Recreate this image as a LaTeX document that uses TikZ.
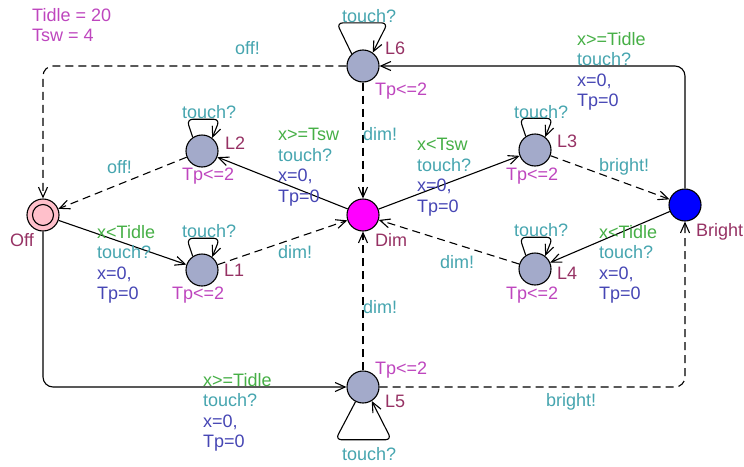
\documentclass[tikz,border=0pt]{standalone}
\usepackage{fontspec}
\setmainfont{Liberation Sans}
\usepackage{tikz}
\usetikzlibrary{arrows.meta, positioning, shapes.geometric}
\usepackage{xcolor}
\definecolor{locfill}{RGB}{163,170,202}
\definecolor{offfill}{RGB}{255,192,203}
\definecolor{dimfill}{RGB}{255,0,255}
\definecolor{brightfill}{RGB}{0,0,255}
\definecolor{namecol}{RGB}{150,50,100}
\definecolor{invcol}{RGB}{190,70,190}
\definecolor{guardcol}{RGB}{70,175,70}
\definecolor{synccol}{RGB}{70,165,175}
\definecolor{updcol}{RGB}{70,70,180}
\tikzset{
  loc/.style={circle, draw=black, line width=1.1pt, fill=locfill, minimum size=32pt, inner sep=0pt},
  initloc/.style={loc, fill=offfill,
    path picture={\draw[line width=1.1pt] (path picture bounding box.center) circle (10.5pt);}},
  dimloc/.style={loc, fill=dimfill},
  brightloc/.style={loc, fill=brightfill},
  namelabel/.style={anchor=north west, inner sep=0pt, text=namecol},
  invlabel/.style={anchor=north west, inner sep=0pt, text=invcol},
  synclabel/.style={anchor=north west, inner sep=0pt, text=synccol},
  translabel/.style={anchor=north west, inner sep=0pt, align=left, text=updcol},
  arrow/.style={-{Straight Barb[length=10pt,width=9pt]}, line width=1.1pt, color=black},
  dashedarrow/.style={arrow, dash pattern=on 8pt off 5pt},
  looparrow/.style={arrow, rounded corners=6pt}
}

\begin{document}
\begin{tikzpicture}[x=1pt, y=-1pt, on grid, font=\fontsize{18}{20.5}\selectfont]
  \useasboundingbox (0,0) rectangle (744,466);

  % locations
  \node[dimloc] (Dim) at (363,215) {};
  \node[loc, above=149pt of Dim] (L6) {};
  \node[loc, below=172pt of Dim] (L5) {};
  \node[loc, above left=64pt and 161pt of Dim] (L2) {};
  \node[loc, below left=55pt and 161pt of Dim] (L1) {};
  \node[loc, above right=65pt and 172pt of Dim] (L3) {};
  \node[loc, below right=54pt and 172pt of Dim] (L4) {};
  \node[initloc, left=320pt of Dim] (Off) {};
  \node[brightloc, above right=10pt and 322pt of Dim] (Bright) {};

  % declarations
  \node[invlabel, align=left] (decls) at (32,8) {Tidle = 20\\Tsw = 4};

  % location names and invariants
  \node[namelabel] (nameOff) at (10,233) {Off};
  \node[namelabel] (nameL1) at (224,264) {L1};
  \node[namelabel] (nameL2) at (225,137) {L2};
  \node[namelabel] (nameL3) at (557,135) {L3};
  \node[namelabel] (nameL4) at (557,267) {L4};
  \node[namelabel] (nameL5) at (385,395) {L5};
  \node[namelabel] (nameL6) at (385,42) {L6};
  \node[namelabel] (nameDim) at (375,233) {Dim};
  \node[namelabel] (nameBright) at (696,223) {Bright};
  \node[invlabel] (invL1) at (172,287) {Tp<=2};
  \node[invlabel] (invL2) at (182,168) {Tp<=2};
  \node[invlabel] (invL3) at (506,168) {Tp<=2};
  \node[invlabel] (invL4) at (506,287) {Tp<=2};
  \node[invlabel] (invL5) at (375,362) {Tp<=2};
  \node[invlabel] (invL6) at (375,83) {Tp<=2};

  % self loops
  \draw[looparrow] (L6.133) -- ++(-15,-31) -- ++(51,0) -- (L6.54);
  \draw[looparrow] (L2.124) -- ++(-6,-18) -- ++(33,0) -- (L2.52);
  \draw[looparrow] (L1.124) -- ++(-6,-18) -- ++(33,0) -- (L1.52);
  \draw[looparrow] (L3.124) -- ++(-6,-18) -- ++(33,0) -- (L3.52);
  \draw[looparrow] (L4.124) -- ++(-6,-18) -- ++(33,0) -- (L4.52);
  \draw[looparrow] (L5.243) -- ++(-20,38) -- ++(56,0) -- (L5.302);
  \node[synclabel] (loopL6) at (342,9) {touch?};
  \node[synclabel] (loopL2) at (182,105) {touch?};
  \node[synclabel] (loopL1) at (182,224) {touch?};
  \node[synclabel] (loopL3) at (514,105) {touch?};
  \node[synclabel] (loopL4) at (514,223) {touch?};
  \node[synclabel] (loopL5) at (342,447) {touch?};

  % transitions
  \draw[arrow] (Off) -- (L1);
  \draw[dashedarrow] (L2) -- (Off);
  \draw[arrow] (Dim) -- (L2);
  \draw[dashedarrow] (L1) -- (Dim);
  \draw[arrow] (Dim) -- (L3);
  \draw[dashedarrow] (L3) -- (Bright);
  \draw[arrow] (Bright) -- (L4);
  \draw[dashedarrow] (L4) -- (Dim);
  \draw[dashedarrow] (L6) -- (Dim);
  \draw[dashedarrow] (L5) -- (Dim);
  \draw[dashedarrow, rounded corners=10pt] (L6) -| (Off);
  \draw[arrow, rounded corners=10pt] (Off) |- (L5);
  \draw[arrow, rounded corners=10pt] (Bright) |- (L6);
  \draw[dashedarrow, rounded corners=10pt] (L5) -| (Bright);

  % transition labels
  \node[synclabel] (syncL6Off) at (235,41) {off!};
  \node[synclabel] (syncL2Off) at (107,160) {off!};
  \node[synclabel] (syncL6Dim) at (363,127) {dim!};
  \node[synclabel] (syncL1Dim) at (278,245) {dim!};
  \node[synclabel] (syncL4Dim) at (440,255) {dim!};
  \node[synclabel] (syncL5Dim) at (363,300) {dim!};
  \node[synclabel] (syncL3Bright) at (599,158) {bright!};
  \node[synclabel] (syncL5Bright) at (546,393) {bright!};
  \node[translabel] (tOffL1) at (97,225)
        {\textcolor{guardcol}{x<Tidle}\\\textcolor{synccol}{touch?}\\x=0,\\Tp=0};
  \node[translabel] (tDimL2) at (278,128)
        {\textcolor{guardcol}{x>=Tsw}\\\textcolor{synccol}{touch?}\\x=0,\\Tp=0};
  \node[translabel] (tDimL3) at (417,138)
        {\textcolor{guardcol}{x<Tsw}\\\textcolor{synccol}{touch?}\\x=0,\\Tp=0};
  \node[translabel] (tBrightL4) at (599,225)
        {\textcolor{guardcol}{x<Tidle}\\\textcolor{synccol}{touch?}\\x=0,\\Tp=0};
  \node[translabel] (tBrightL6) at (577,32)
        {\textcolor{guardcol}{x>=Tidle}\\\textcolor{synccol}{touch?}\\x=0,\\Tp=0};
  \node[translabel] (tOffL5) at (203,373)
        {\textcolor{guardcol}{x>=Tidle}\\\textcolor{synccol}{touch?}\\x=0,\\Tp=0};
\end{tikzpicture}
\end{document}
